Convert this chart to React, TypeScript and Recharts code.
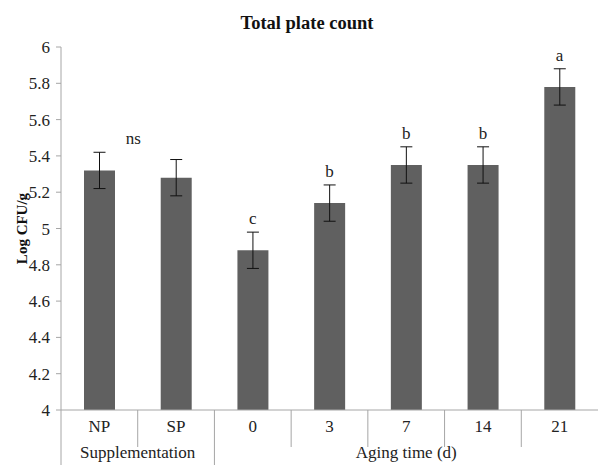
import { BarChart, Bar, XAxis, YAxis, ErrorBar, Line, LabelList } from "recharts"

const categories = ["NP", "SP", "0", "3", "7", "14", "21"]
const means = [5.32, 5.28, 4.88, 5.14, 5.35, 5.35, 5.78]
const errors = [0.1, 0.1, 0.1, 0.1, 0.1, 0.1, 0.1]
const letters = ["ns", "", "c", "b", "b", "b", "a"]
const groups = [
  { label: "Supplementation", first: 0, count: 2 },
  { label: "Aging time (d)", first: 2, count: 5 },
]
const yTicks = [4, 4.2, 4.4, 4.6, 4.8, 5, 5.2, 5.4, 5.6, 5.8, 6]

const data = categories.map((c, i) => ({
  name: c,
  value: means[i],
  err: errors[i],
  top: means[i] + errors[i],
  letter: letters[i],
}))

const FONT = "Liberation Serif, Times New Roman, serif"
const AXIS = "#a6a6a6"
const txt = { fontFamily: FONT, fontSize: 17 }

const CatTick = (props: any) => {
  const { x, y, payload, index } = props
  const half = payload.offset ?? 0
  const left = x - half
  const base = y - 8 // tick y includes tickSize + tickMargin
  const groupStart = groups.some((g) => g.first === index)
  const out: any[] = []
  out.push(
    <line key="sep" x1={left} y1={base} x2={left} y2={base + (groupStart ? 55 : 37)} stroke={AXIS} strokeWidth={1} />
  )
  out.push(
    <text key="lab" x={x} y={base + 22} textAnchor="middle" style={txt} fill="#222">
      {payload.value}
    </text>
  )
  groups.forEach((g) => {
    if (index === g.first) {
      const cx = left + half * g.count
      out.push(
        <text key={g.label} x={cx} y={base + 48} textAnchor="middle" style={txt} fill="#222">
          {g.label}
        </text>
      )
    }
  })
  return <g>{out}</g>
}

const renderValTick = (props: any) => {
  const { x, y, payload } = props
  return (
    <text x={x} y={y + 6} textAnchor="end" style={txt} fill="#222">
      {String(Math.round(payload.value * 10) / 10)}
    </text>
  )
}

const LetterLabel = (props: any) => {
  const { x, y, value, index } = props
  if (!value) return null
  const dx = index === 0 ? 34 : 0
  return (
    <text x={x + dx} y={y - 8} textAnchor="middle" style={txt} fill="#222">
      {value}
    </text>
  )
}

export default function App() {
  return (
    <div style={{ position: "absolute", left: 0, top: 0, width: 603, height: 465, background: "#fff" }}>
      <BarChart width={603} height={465} data={data} margin={{ top: 47, right: 5, left: 0, bottom: 0 }} barCategoryGap="0%">
        <text x={307} y={29} textAnchor="middle" fontSize={18.5} fontWeight="bold" fontFamily={FONT} fill="#111">
          Total plate count
        </text>
        <XAxis
          dataKey="name"
          height={55}
          stroke={AXIS}
          tickLine={false}
          interval={0}
          tick={<CatTick />}
        />
        <YAxis
          width={61}
          domain={[4, 6]}
          ticks={yTicks}
          interval={0}
          stroke={AXIS}
          tickSize={5}
          tickMargin={6}
          tick={renderValTick}
          label={{
            value: "Log CFU/g",
            angle: -90,
            position: "insideLeft",
            dx: 17,
            style: { fontSize: 15, fontWeight: "bold", fontFamily: FONT, fill: "#111", textAnchor: "middle" },
          }}
        />
        <Bar dataKey="value" fill="#606060" barSize={31} isAnimationActive={false}>
          <ErrorBar dataKey="err" width={6} stroke="#111" strokeWidth={1} />
        </Bar>
        <Line dataKey="top" stroke="none" dot={false} activeDot={false} isAnimationActive={false}>
          <LabelList dataKey="letter" content={<LetterLabel />} />
        </Line>
      </BarChart>
    </div>
  )
}
